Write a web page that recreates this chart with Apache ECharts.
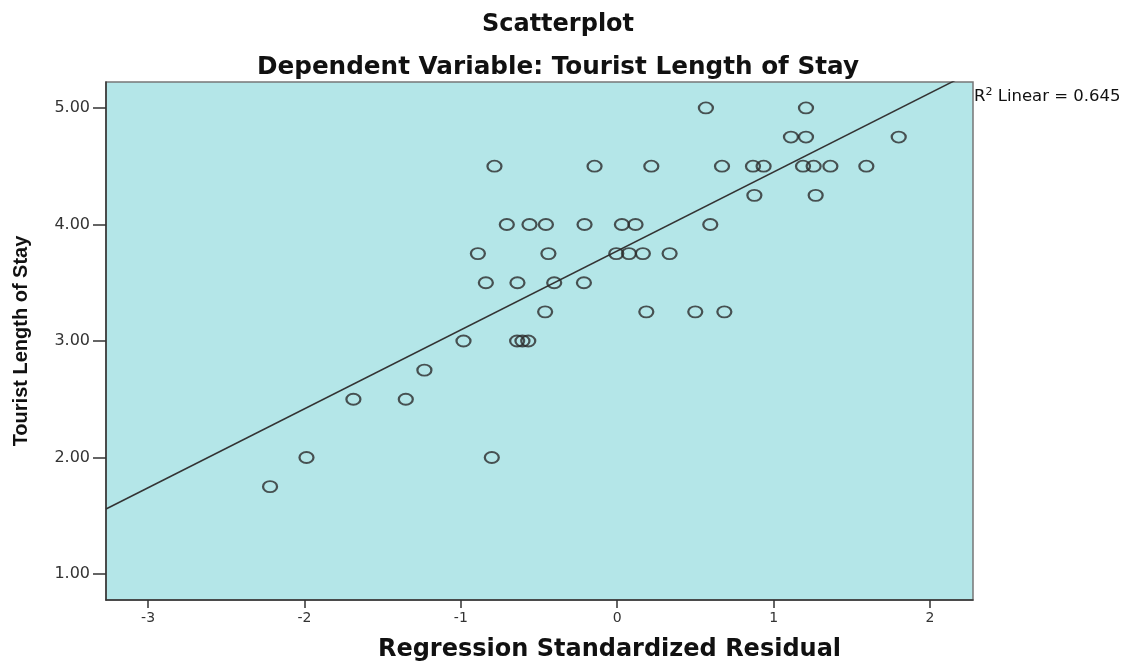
<!DOCTYPE html>
<html>
<head>
<meta charset="utf-8">
<script src="https://cdn.jsdelivr.net/npm/echarts@6/dist/echarts.min.js"></script>
<style>html,body{margin:0;padding:0;background:#fff}#c{width:1131px;height:662px}</style>
</head>
<body>
<div id="c"></div>
<script>
// Regression standardized residual (x) and Tourist Length of Stay (y)
const residuals = [
  -2.22,
  -1.987, -0.802,
  -1.687, -1.352,
  -1.233,
  -0.983, -0.640, -0.606, -0.569,
  -0.461, 0.186, 0.499, 0.685,
  -0.840, -0.638, -0.403, -0.213,
  -0.891, -0.440, -0.006, 0.075, 0.164, 0.335,
  -0.706, -0.561, -0.456, -0.209, 0.030, 0.117, 0.595,
  0.877, 1.269,
  -0.785, -0.145, 0.218, 0.670, 0.868, 0.936, 1.188, 1.256, 1.363, 1.593,
  1.111, 1.207, 1.800,
  0.567, 1.207
];
const lengthOfStay = [
  1.75,
  2.00, 2.00,
  2.50, 2.50,
  2.75,
  3.00, 3.00, 3.00, 3.00,
  3.25, 3.25, 3.25, 3.25,
  3.50, 3.50, 3.50, 3.50,
  3.75, 3.75, 3.75, 3.75, 3.75, 3.75,
  4.00, 4.00, 4.00, 4.00, 4.00, 4.00, 4.00,
  4.25, 4.25,
  4.50, 4.50, 4.50, 4.50, 4.50, 4.50, 4.50, 4.50, 4.50, 4.50,
  4.75, 4.75, 4.75,
  5.00, 5.00
];
const xTicks = [-3, -2, -1, 0, 1, 2];
const yTicks = [1, 2, 3, 4, 5];
const fitIntercept = 3.773;
const fitSlope = 0.6775;
const rSquared = '0.645';

const xMin = -3.269, xMax = 2.275, yMin = 0.777, yMax = 5.223;

const points = residuals.map((x, i) => [x, lengthOfStay[i]]);
const fitLine = [xMin, xMax].map(x => [x, fitIntercept + fitSlope * x]);

const chart = echarts.init(document.getElementById('c'), null, {renderer: 'canvas'});
const wide = '"DejaVu Sans", "Liberation Sans", sans-serif';
const ellipse = 'path://M0,5a7,5 0 1,0 14,0a7,5 0 1,0 -14,0z';
chart.setOption({
  animation: false,
  title: [
    {text: 'Scatterplot', left: 553, textAlign: 'center', top: 8,
     textStyle: {fontFamily: wide, fontWeight: 'bold', fontSize: 24, color: '#111'}},
    {text: 'Dependent Variable: Tourist Length of Stay', left: 553, textAlign: 'center', top: 50,
     textStyle: {fontFamily: wide, fontWeight: 'bold', fontSize: 24.7, color: '#111'}}
  ],
  grid: {left: 106, right: 158, top: 82, bottom: 62, show: true, containLabel: false,
         outerBoundsMode: 'none',
         backgroundColor: '#b4e6e8', borderColor: '#777', borderWidth: 1.5},
  xAxis: {
    type: 'value', min: xMin, max: xMax,
    name: 'Regression Standardized Residual', nameLocation: 'middle', nameGap: 38,
    nameTextStyle: {fontFamily: wide, fontWeight: 'bold', fontSize: 24, color: '#111', padding: [0, 0, 0, 140]},
    axisLine: {show: true, onZero: false, lineStyle: {color: '#333', width: 1.5}},
    axisTick: {show: true, customValues: xTicks, length: 8, lineStyle: {color: '#333', width: 1.5}},
    axisLabel: {customValues: xTicks, fontFamily: wide, fontSize: 14, color: '#333', margin: 11},
    splitLine: {show: false}
  },
  yAxis: {
    type: 'value', min: yMin, max: yMax,
    name: 'Tourist Length of Stay', nameLocation: 'middle', nameGap: 75,
    nameTextStyle: {fontFamily: '"Liberation Sans Narrow", "Liberation Sans", Arial, sans-serif', fontWeight: 'bold', fontSize: 20, color: '#111'},
    axisLine: {show: true, onZero: false, lineStyle: {color: '#333', width: 1.5}},
    axisTick: {show: true, customValues: yTicks, length: 13, lineStyle: {color: '#333', width: 1.5}},
    axisLabel: {customValues: yTicks, formatter: v => v.toFixed(2), fontFamily: wide, fontSize: 16, color: '#333', margin: 16},
    splitLine: {show: false}
  },
  series: [
    {type: 'line', data: fitLine, symbol: 'none', clip: true,
     lineStyle: {color: '#333', width: 1.5}, silent: true, z: 2},
    {type: 'scatter', data: points, symbol: ellipse, symbolSize: [14, 11], symbolKeepAspect: false,
     itemStyle: {color: 'rgba(0,0,0,0)', borderColor: '#2a2a2a', borderWidth: 2}, z: 3}
  ],
  graphic: [
    {type: 'text', left: 974, top: 87,
     style: {text: '{t|R}{s|2}{t| Linear = ' + rSquared + '}',
       rich: {t: {fontFamily: wide, fontSize: 16.5, fill: '#111', verticalAlign: 'bottom'},
              s: {fontFamily: wide, fontSize: 11, fill: '#111', verticalAlign: 'top', padding: [0, 0, 7, 0]}}}}
  ]
});
</script>
</body>
</html>
